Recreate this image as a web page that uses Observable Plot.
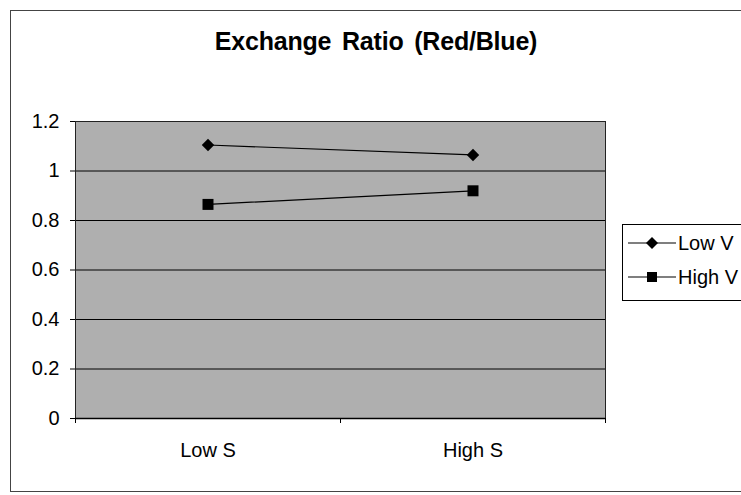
<!DOCTYPE html>
<html>
<head>
<meta charset="utf-8">
<script src="https://cdn.jsdelivr.net/npm/d3@7"></script>
<script src="https://cdn.jsdelivr.net/npm/@observablehq/plot@0.6"></script>
<style>
  html, body { margin: 0; padding: 0; background: #fff; }
  #wrap { position: relative; width: 741px; height: 495px; overflow: hidden; font-family: "Liberation Sans", Arial, sans-serif; }
  #border { position: absolute; left: 10px; top: 10px; width: 760px; height: 482px; border: 1px solid #444; box-sizing: border-box; }
  #title { position: absolute; left: 0; width: 752px; top: 27px; text-align: center; font-weight: bold; font-size: 25px; color: #000; word-spacing: 4px; letter-spacing: -0.2px; }
  #legend { position: absolute; left: 622px; top: 224px; width: 140px; height: 77px; border: 1px solid #000; box-sizing: border-box; background: #fff; }
  .row { position: absolute; left: 5px; display: flex; align-items: center; font-size: 20px; line-height: 22px; }
  .row svg { margin-right: 2px; }
  #plot { position: absolute; left: 0; top: 0; }
</style>
</head>
<body>
<div id="wrap">
  <div id="border"></div>
  <div id="plot"></div>
  <div id="title"></div>
  <div id="legend"></div>
</div>
<script>
const title = "Exchange Ratio (Red/Blue)";
const categories = ["Low S", "High S"];
const seriesNames = ["Low V", "High V"];
const lowV = [1.105, 1.065];
const highV = [0.865, 0.92];
const yTicks = [0, 0.2, 0.4, 0.6, 0.8, 1, 1.2];
const yTickLabels = ["0", "0.2", "0.4", "0.6", "0.8", "1", "1.2"];

const rows = [];
categories.forEach((c, i) => {
  rows.push({cat: c, i, series: seriesNames[0], value: lowV[i]});
  rows.push({cat: c, i, series: seriesNames[1], value: highV[i]});
});

const bandEdges = d3.range(categories.length + 1);
const centers = categories.map((c, i) => i + 0.5);

const chart = Plot.plot({
  width: 741,
  height: 495,
  marginLeft: 75,
  marginRight: 136,
  marginTop: 121,
  marginBottom: 77,
  style: {fontFamily: "'Liberation Sans', Arial, sans-serif", fontSize: "20px", color: "#000", background: "transparent"},
  x: {type: "linear", domain: [0, categories.length], label: null},
  y: {domain: [0, 1.2], label: null},
  marks: [
    Plot.frame({fill: "#afafaf", stroke: null}),
    Plot.gridY(yTicks, {stroke: "#000", strokeOpacity: 1, strokeWidth: 1}),
    Plot.frame({stroke: "#222", strokeWidth: 1}),
    Plot.axisY({ticks: yTicks, tickSize: 5, tickPadding: 11, tickFormat: (d, i) => yTickLabels[i], fontSize: 20, stroke: "#000", label: null}),
    Plot.axisX({ticks: bandEdges, tickSize: 5, tickFormat: () => "", stroke: "#000", label: null}),
    Plot.axisX({ticks: centers, tickSize: 0, tickPadding: 24, tickFormat: d => categories[Math.floor(d)], fontSize: 20, label: null}),
    Plot.ruleY([0], {stroke: "#000", strokeWidth: 1.5}),
    Plot.line(rows, {x: d => d.i + 0.5, y: "value", z: "series", stroke: "#000", strokeWidth: 1.2}),
    Plot.dot(rows.filter(d => d.series === seriesNames[0]), {x: d => d.i + 0.5, y: "value", symbol: "diamond2", r: 5.6, fill: "#000", stroke: null}),
    Plot.dot(rows.filter(d => d.series === seriesNames[1]), {x: d => d.i + 0.5, y: "value", symbol: "square", r: 6.2, fill: "#000", stroke: null})
  ]
});
document.getElementById("plot").appendChild(chart);
document.getElementById("title").textContent = title;

const legend = document.getElementById("legend");
const glyphs = [
  '<svg width="48" height="14"><line x1="0" y1="7" x2="48" y2="7" stroke="#000" stroke-width="1.2"/><path d="M24 1 L30 7 L24 13 L18 7 Z" fill="#000"/></svg>',
  '<svg width="48" height="14"><line x1="0" y1="7" x2="48" y2="7" stroke="#000" stroke-width="1.2"/><rect x="19" y="2" width="10" height="10" fill="#000"/></svg>'
];
seriesNames.forEach((s, k) => {
  const r = document.createElement("div");
  r.className = "row";
  r.style.top = (k === 0 ? 7 : 41) + "px";
  r.innerHTML = glyphs[k] + "<span>" + s + "</span>";
  legend.appendChild(r);
});
</script>
</body>
</html>
